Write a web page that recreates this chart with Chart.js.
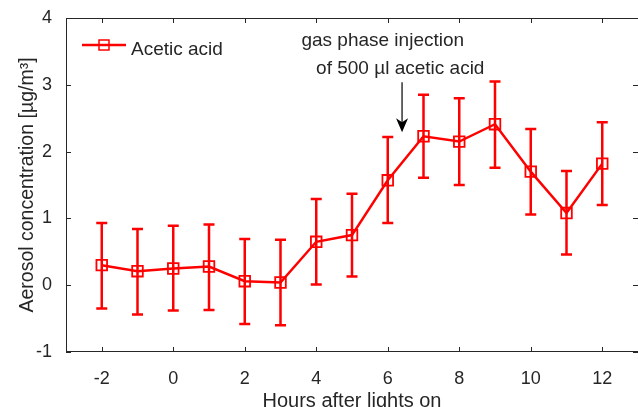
<!DOCTYPE html>
<html>
<head>
<meta charset="utf-8">
<script src="https://cdn.jsdelivr.net/npm/chart.js@4/dist/chart.umd.min.js"></script>
<style>
  html, body { margin: 0; padding: 0; background: #fff; }
  canvas { display: block; }
</style>
</head>
<body>
<canvas id="chart" width="638" height="407"></canvas>
<script>
// data
var hours = [-2, -1, 0, 1, 2, 3, 4, 5, 6, 7, 8, 9, 10, 11, 12];
var concentration = [0.30, 0.21, 0.25, 0.28, 0.06, 0.04, 0.65, 0.75, 1.57, 2.23, 2.15, 2.41, 1.70, 1.08, 1.82];
var upperErr = [0.93, 0.84, 0.89, 0.91, 0.69, 0.68, 1.29, 1.37, 2.22, 2.85, 2.80, 3.05, 2.34, 1.71, 2.44];
var lowerErr = [-0.35, -0.44, -0.38, -0.37, -0.58, -0.60, 0.01, 0.13, 0.93, 1.61, 1.50, 1.76, 1.06, 0.46, 1.20];
var xTicks = [-2, 0, 2, 4, 6, 8, 10, 12];
var yTicks = [-1, 0, 1, 2, 3, 4];

var seriesLabel = 'Acetic acid';
var noteLines = ['gas phase injection', 'of 500 \u00b5l acetic acid'];

var red = '#ff0000';
var ink = '#262626';
var fontFamily = '"Liberation Sans", Arial, Helvetica, sans-serif';

// where the annotation sits, in data units
var note = { line1X: 5.86, line1Y: 3.58, line2X: 6.35, line2Y: 3.16, arrowX: 6.4, arrowFrom: 3.04, arrowTo: 2.29 };

var points = [];
for (var i = 0; i < hours.length; i++) {
    points.push({ x: hours[i], y: concentration[i] });
}

function drawRectMarker(ctx, x, y, half) {
    ctx.strokeRect(x - half, y - half, half * 2, half * 2);
}

var extras = {
    id: 'extras',
    beforeDatasetsDraw: function(chart) {
        var ctx = chart.ctx;
        var xs = chart.scales.x, ys = chart.scales.y;
        ctx.save();
        ctx.strokeStyle = red;
        ctx.lineWidth = 2.5;
        // error bars
        for (var i = 0; i < hours.length; i++) {
            var px = xs.getPixelForValue(hours[i]);
            var top = ys.getPixelForValue(upperErr[i]);
            var bot = ys.getPixelForValue(lowerErr[i]);
            ctx.beginPath();
            ctx.moveTo(px, top); ctx.lineTo(px, bot);
            ctx.moveTo(px - 5.5, top); ctx.lineTo(px + 5.5, top);
            ctx.moveTo(px - 5.5, bot); ctx.lineTo(px + 5.5, bot);
            ctx.stroke();
        }
        ctx.restore();
    },
    afterDraw: function(chart) {
        var ctx = chart.ctx;
        var xs = chart.scales.x, ys = chart.scales.y;
        var a = chart.chartArea;
        ctx.save();

        // axes box with inward ticks (matlab style); the right side falls just off the picture
        ctx.strokeStyle = ink;
        ctx.lineWidth = 1;
        ctx.strokeRect(a.left + 0.5, a.top + 0.5, a.right - a.left, a.bottom - a.top - 1);
        ctx.beginPath();
        xTicks.forEach(function(v) {
            var px = Math.round(xs.getPixelForValue(v)) + 0.5;
            ctx.moveTo(px, a.top); ctx.lineTo(px, a.top + 5);
            ctx.moveTo(px, a.bottom); ctx.lineTo(px, a.bottom - 5);
        });
        yTicks.forEach(function(v) {
            var py = Math.round(ys.getPixelForValue(v)) + 0.5;
            ctx.moveTo(a.left, py); ctx.lineTo(a.left + 5, py);
            ctx.moveTo(a.right, py); ctx.lineTo(a.right - 5, py);
        });
        ctx.stroke();

        // legend
        var lx = a.left + 16, ly = a.top + 27;
        ctx.strokeStyle = red;
        ctx.lineWidth = 2.5;
        ctx.beginPath();
        ctx.moveTo(lx, ly); ctx.lineTo(lx + 44, ly);
        ctx.stroke();
        ctx.lineWidth = 1.5;
        drawRectMarker(ctx, lx + 22, ly, 5);
        ctx.fillStyle = ink;
        ctx.font = '19px ' + fontFamily;
        ctx.textAlign = 'left';
        ctx.textBaseline = 'alphabetic';
        ctx.fillText(seriesLabel, lx + 49, ly + 10);

        // annotation
        ctx.textAlign = 'center';
        ctx.fillText(noteLines[0], xs.getPixelForValue(note.line1X), ys.getPixelForValue(note.line1Y));
        ctx.fillText(noteLines[1], xs.getPixelForValue(note.line2X), ys.getPixelForValue(note.line2Y));
        var ax = xs.getPixelForValue(note.arrowX);
        var ay0 = ys.getPixelForValue(note.arrowFrom);
        var ay1 = ys.getPixelForValue(note.arrowTo);
        ctx.strokeStyle = '#000';
        ctx.fillStyle = '#000';
        ctx.lineWidth = 1.2;
        ctx.beginPath();
        ctx.moveTo(ax, ay0); ctx.lineTo(ax, ay1 - 8);
        ctx.stroke();
        ctx.beginPath();
        ctx.moveTo(ax, ay1);
        ctx.lineTo(ax - 6, ay1 - 14);
        ctx.lineTo(ax, ay1 - 10);
        ctx.lineTo(ax + 6, ay1 - 14);
        ctx.closePath();
        ctx.fill();

        ctx.restore();
    }
};

var chart = new Chart(document.getElementById('chart'), {
    type: 'line',
    data: {
        datasets: [{
            label: seriesLabel,
            data: points,
            borderColor: red,
            borderWidth: 2.5,
            tension: 0,
            pointStyle: 'rect',
            pointRadius: 7.5,
            pointBorderWidth: 1.8,
            pointBorderColor: red,
            pointBackgroundColor: 'rgba(0,0,0,0)'
        }]
    },
    options: {
        responsive: false,
        animation: false,
        devicePixelRatio: 1,
        layout: { autoPadding: false, padding: { top: 18, right: 0, left: 0, bottom: 0 } },
        plugins: {
            legend: { display: false },
            tooltip: { enabled: false }
        },
        scales: {
            x: {
                type: 'linear',
                min: -3,
                max: 13,
                afterBuildTicks: function(scale) {
                    scale.ticks = xTicks.map(function(v) { return { value: v }; });
                },
                afterFit: function(scale) { scale.height = 55; },
                grid: { display: false },
                border: { display: false },
                ticks: {
                    color: ink,
                    padding: 8,
                    maxRotation: 0,
                    font: { family: fontFamily, size: 18 }
                },
                title: {
                    display: true,
                    text: 'Hours after lights on',
                    color: ink,
                    padding: { top: 0, bottom: -4 },
                    font: { family: fontFamily, size: 20, lineHeight: 1 }
                }
            },
            y: {
                min: -1,
                max: 4,
                afterBuildTicks: function(scale) {
                    scale.ticks = yTicks.map(function(v) { return { value: v }; });
                },
                afterFit: function(scale) { scale.width = 66; },
                grid: { display: false },
                border: { display: false },
                ticks: {
                    color: ink,
                    padding: 6,
                    font: { family: fontFamily, size: 18 }
                },
                title: {
                    display: true,
                    text: 'Aerosol concentration [\u00b5g/m\u00b3]',
                    color: ink,
                    padding: { top: 18, bottom: 0 },
                    font: { family: fontFamily, size: 19.5, lineHeight: 1 }
                }
            }
        }
    },
    plugins: [extras]
});
</script>
</body>
</html>
